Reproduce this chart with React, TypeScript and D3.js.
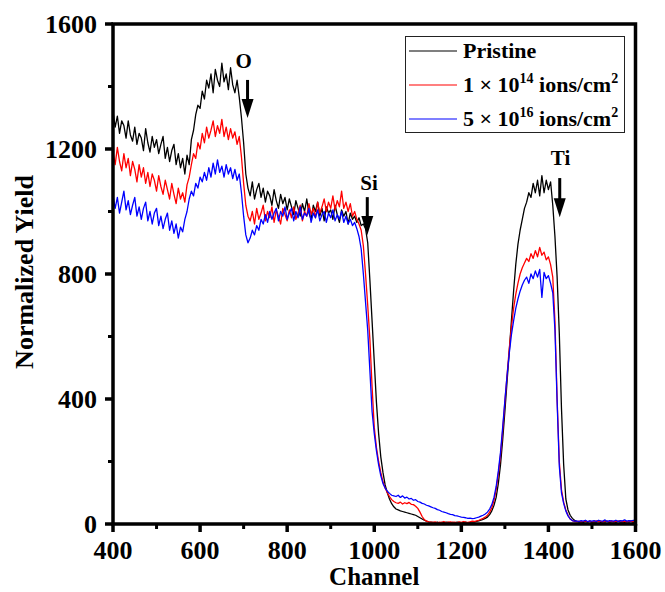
import React from "react";
import * as d3 from "d3";

// Channel grid of the sampled spectra (start, step) — 241 samples from 400 to 1600
const CHANNEL_START = 400;
const CHANNEL_STEP = 5;

const pristine: number[] = [
  1320, 1270, 1305, 1250, 1290, 1275, 1235, 1290, 1245, 1225, 1270, 1215, 1250, 1235, 1195, 1265, 1220, 1190, 1240, 1205,
  1230, 1185, 1215, 1240, 1170, 1205, 1160, 1195, 1215, 1150, 1185, 1140, 1170, 1120, 1180, 1150, 1230, 1260, 1310, 1340,
  1330, 1385, 1360, 1420, 1395, 1440, 1380, 1455, 1420, 1400, 1475, 1415, 1440, 1390, 1460, 1405, 1380, 1420, 1365, 1300,
  1220, 1120, 1075, 1050, 1095, 1040, 1070, 1090, 1045, 1075, 1030, 1065, 1050, 1020, 1070, 1035, 1010, 1055, 1025, 1045,
  1005, 1040, 1015, 990, 1035, 1010, 985, 1025, 1000, 1040, 995, 975, 1020, 1000, 1030, 985, 1010, 970, 1015, 995,
  1005, 975, 1020, 990, 965, 1005, 985, 1000, 960, 995, 975, 985, 965, 980, 955, 960, 945, 900, 780, 650,
  520, 390, 290, 215, 165, 125, 100, 80, 65, 55, 48, 45, 42, 40, 38, 36, 34, 32, 30, 28,
  24, 20, 16, 12, 9, 7, 6, 5, 4, 6, 3, 5, 4, 6, 5, 3, 5, 4, 6, 5,
  4, 5, 6, 4, 5, 7, 6, 8, 10, 12, 15, 18, 22, 30, 42, 60, 85, 130, 190, 270,
  360, 455, 550, 650, 745, 830, 895, 940, 975, 1010, 1030, 1060, 1045, 1090, 1060, 1100, 1050, 1115, 1060, 1100,
  1070, 1095, 1020, 920, 790, 610, 370, 190, 80, 45, 28, 18, 12, 8, 6, 7, 5, 8, 6, 9,
  5, 7, 6, 10, 5, 8, 6, 9, 5, 7, 8, 5, 9, 6, 7, 5, 8, 6, 9, 5,
  7,
];

const dose1e14: number[] = [
  1190, 1150, 1205, 1160, 1130, 1185, 1140, 1170, 1115, 1160, 1135, 1095, 1150, 1110, 1140, 1090, 1125, 1080, 1120, 1100,
  1065, 1115, 1080, 1055, 1100, 1070, 1040, 1090, 1055, 1025, 1075, 1040, 1060, 1030, 1085, 1110, 1150, 1185, 1170, 1220,
  1200, 1250, 1220, 1270, 1235, 1260, 1290, 1240, 1275, 1250, 1295, 1240, 1270, 1230, 1265, 1235, 1255, 1215, 1240, 1175,
  1090, 1020, 985, 970, 1000, 960, 1010, 975, 995, 1020, 970, 1000, 980, 1015, 965, 1005, 985, 960, 1010, 990,
  970, 1005, 980, 1015, 975, 995, 1020, 970, 1000, 985, 1025, 990, 1010, 980, 1030, 995, 1015, 1040, 1000, 1030,
  1010, 1050, 1005, 1035, 1015, 1065, 1010, 1030, 1000, 1025, 985, 1000, 975, 960, 940, 890, 800, 700, 590, 440,
  310, 245, 200, 165, 135, 115, 100, 88, 78, 72, 68, 66, 70, 64, 68, 65, 69, 63, 62, 57,
  50, 38, 24, 14, 9, 7, 6, 5, 7, 4, 6, 5, 8, 4, 6, 7, 5, 6, 4, 7,
  5, 8, 6, 5, 7, 9, 8, 10, 12, 15, 18, 22, 28, 38, 52, 75, 110, 160, 220, 300,
  390, 475, 560, 630, 690, 735, 770, 800, 820, 835, 850, 840, 865, 850, 875, 855, 885, 860, 870, 845,
  855, 830, 790, 650, 400, 200, 110, 70, 45, 28, 16, 11, 8, 7, 9, 6, 8, 10, 7, 9,
  6, 8, 10, 7, 9, 6, 11, 8, 7, 10, 6, 9, 8, 11, 7, 9, 6, 10, 8, 7,
  9,
];

const dose5e16: number[] = [
  1050, 1010, 1045, 995, 1030, 1065, 1005, 1035, 990, 1020, 1045, 985, 1015, 975, 1010, 1030, 970, 1000, 960, 995,
  1010, 955, 985, 945, 975, 995, 940, 970, 930, 960, 915, 950, 935, 975, 1000, 1040, 1065, 1050, 1090, 1075,
  1110, 1095, 1125, 1100, 1140, 1110, 1155, 1120, 1165, 1125, 1145, 1110, 1150, 1120, 1140, 1105, 1135, 1100, 1120, 1060,
  985, 925, 900, 915, 940, 925, 955, 940, 975, 960, 990, 965, 1000, 975, 995, 1010, 970, 1000, 985, 1015,
  975, 995, 1010, 970, 1000, 980, 1015, 975, 995, 985, 1010, 965, 995, 980, 1005, 970, 990, 1000, 965, 995,
  980, 1005, 970, 990, 975, 1000, 965, 985, 960, 975, 955, 965, 945, 920, 880, 800, 710, 620, 490, 360,
  290, 235, 190, 155, 130, 115, 105, 98, 92, 90, 88, 92, 85, 90, 83, 86, 80, 82, 76, 78,
  72, 70, 66, 64, 60, 58, 55, 52, 50, 46, 44, 40, 38, 36, 33, 31, 30, 27, 26, 24,
  22, 21, 20, 18, 19, 17, 18, 20, 22, 25, 28, 32, 38, 48, 62, 85, 120, 170, 230, 310,
  395, 475, 545, 605, 650, 690, 720, 745, 765, 780, 790, 770, 800, 785, 810, 790, 815, 725, 805, 785,
  795, 770, 740, 620, 390, 185, 100, 66, 42, 26, 16, 11, 9, 10, 8, 11, 9, 12, 8, 10,
  9, 11, 8, 12, 10, 9, 13, 8, 11, 10, 9, 12, 8, 11, 10, 13, 9, 11, 10, 12,
  10,
];

const seriesNames = ["Pristine", "1e14", "5e16"];
const seriesColors = ["#000000", "#ff0000", "#0000ff"];
const seriesData = [pristine, dose1e14, dose5e16];

const xTicksMajor = [400, 600, 800, 1000, 1200, 1400, 1600];
const yTicksMajor = [0, 400, 800, 1200, 1600];

// Element annotations: label, arrow channel, arrow top yield, arrow tip yield, label position
const annotLabels = ["O", "Si", "Ti"];
const annotChannel = [709, 984, 1426];
const annotArrowTop = [1421, 1046, 1107];
const annotArrowTip = [1299, 925, 982];
const annotLabelX = [700, 988, 1428];
const annotLabelY = [1459, 1069, 1149];

const W = 665;
const H = 592;
const M = { left: 113, right: 635.5, top: 24, bottom: 524 };
const FONT = "'Liberation Serif', 'Times New Roman', Times, serif";

export default function App() {
  const x = d3.scaleLinear().domain([400, 1600]).range([M.left, M.right]);
  const y = d3.scaleLinear().domain([0, 1600]).range([M.bottom, M.top]);

  const line = d3
    .line<number>()
    .x((_, i) => x(CHANNEL_START + i * CHANNEL_STEP))
    .y((v) => y(v));

  const xMinor = d3.range(500, 1600, 200);
  const yMinor = d3.range(200, 1600, 400);

  const axisW = 3.5;

  return (
    <svg
      width={W}
      height={H}
      style={{ position: "absolute", left: 0, top: 0, background: "#fff" }}
      fontFamily={FONT}
    >
      <defs>
        <clipPath id="plotClip">
          <rect x={M.left} y={M.top} width={M.right - M.left} height={M.bottom - M.top} />
        </clipPath>
      </defs>
      <rect x={0} y={0} width={W} height={H} fill="#fff" />

      {/* data */}
      <g clipPath="url(#plotClip)">
        {seriesData.map((d, k) => (
          <path
            key={seriesNames[k]}
            d={line(d) || ""}
            fill="none"
            stroke={seriesColors[k]}
            strokeWidth={1.3}
            strokeLinejoin="round"
          />
        ))}
      </g>

      {/* frame */}
      <rect
        x={M.left}
        y={M.top}
        width={M.right - M.left}
        height={M.bottom - M.top}
        fill="none"
        stroke="#000"
        strokeWidth={axisW}
      />

      {/* x ticks */}
      {xTicksMajor.map((t) => (
        <g key={"xt" + t}>
          <line x1={x(t)} x2={x(t)} y1={M.bottom} y2={M.bottom + 8} stroke="#000" strokeWidth={3.5} />
          <text x={x(t)} y={559} textAnchor="middle" fontSize={26} fontWeight="bold">
            {t}
          </text>
        </g>
      ))}
      {xMinor.map((t) => (
        <line key={"xm" + t} x1={x(t)} x2={x(t)} y1={M.bottom} y2={M.bottom + 5} stroke="#000" strokeWidth={3} />
      ))}

      {/* y ticks */}
      {yTicksMajor.map((t) => (
        <g key={"yt" + t}>
          <line x1={M.left - 8} x2={M.left} y1={y(t)} y2={y(t)} stroke="#000" strokeWidth={3.5} />
          <text x={97} y={y(t) + 9} textAnchor="end" fontSize={26} fontWeight="bold">
            {t}
          </text>
        </g>
      ))}
      {yMinor.map((t) => (
        <line key={"ym" + t} x1={M.left - 5} x2={M.left} y1={y(t)} y2={y(t)} stroke="#000" strokeWidth={3} />
      ))}

      {/* axis titles */}
      <text x={(M.left + M.right) / 2} y={585} textAnchor="middle" fontSize={25} fontWeight="bold">
        Channel
      </text>
      <text
        transform={`translate(33, 272) rotate(-90)`}
        textAnchor="middle"
        fontSize={26}
        fontWeight="bold"
      >
        Normalized Yield
      </text>

      {/* annotations */}
      {annotLabels.map((lab, i) => {
        const ax = x(annotChannel[i]);
        const yTop = y(annotArrowTop[i]);
        const yTip = y(annotArrowTip[i]);
        const headH = 19;
        const headW = 6;
        return (
          <g key={"an" + lab}>
            <text x={x(annotLabelX[i])} y={y(annotLabelY[i])} textAnchor="middle" fontSize={21} fontWeight="bold">
              {lab}
            </text>
            <line x1={ax} x2={ax} y1={yTop} y2={yTip - headH + 2} stroke="#000" strokeWidth={3} />
            <path
              d={`M${ax - headW},${yTip - headH} L${ax + headW},${yTip - headH} L${ax},${yTip} Z`}
              fill="#000"
            />
          </g>
        );
      })}

      {/* legend */}
      <rect x={405.5} y={36.5} width={219} height={96} fill="#fff" stroke="#222" strokeWidth={1} />
      {seriesNames.map((n, k) => {
        const ly = 51 + k * 34;
        return (
          <line key={"lg" + n} x1={409} x2={457} y1={ly} y2={ly} stroke={seriesColors[k]} strokeWidth={1.2} />
        );
      })}
      <text x={463} y={58} fontSize={22} fontWeight="bold">
        Pristine
      </text>
      <text x={463} y={92} fontSize={22} fontWeight="bold">
        1 × 10
        <tspan dy={-9} fontSize={14}>
          14
        </tspan>
        <tspan dy={9}> ions/cm</tspan>
        <tspan dy={-9} fontSize={14}>
          2
        </tspan>
      </text>
      <text x={463} y={126} fontSize={22} fontWeight="bold">
        5 × 10
        <tspan dy={-9} fontSize={14}>
          16
        </tspan>
        <tspan dy={9}> ions/cm</tspan>
        <tspan dy={-9} fontSize={14}>
          2
        </tspan>
      </text>
    </svg>
  );
}
